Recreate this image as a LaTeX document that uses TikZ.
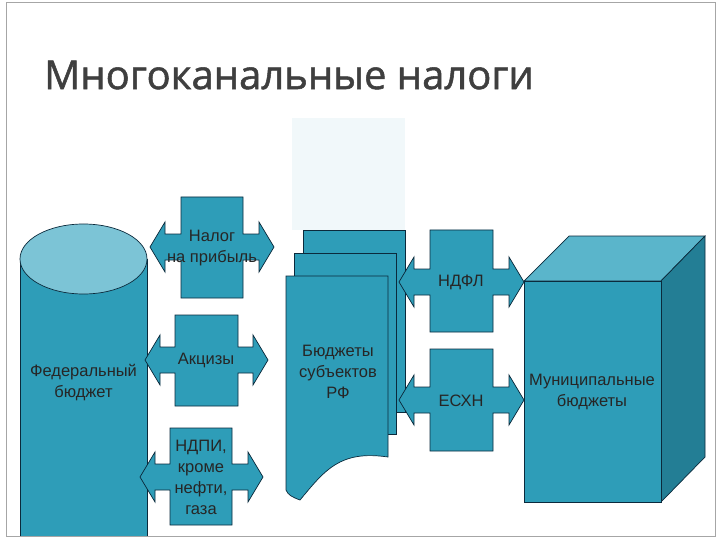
\documentclass[tikz,border=0pt]{standalone}
\usepackage{fontspec}
\setmainfont{Liberation Sans}
\newfontfamily\titlefont[FakeBold=1.3]{Open Sans}
\definecolor{teal1}{HTML}{2E9DB8}
\definecolor{tealtop}{HTML}{7CC4D6}
\definecolor{tealcube}{HTML}{5AB5CB}
\definecolor{tealside}{HTML}{237E95}
\definecolor{edgec}{HTML}{0B2A3C}
\definecolor{ghost}{HTML}{F1F8FA}
\definecolor{titlec}{HTML}{3F3F3F}
\newcommand\lrcall[9]{% x1 x2 y1 y2 cy tL bL bR tR
 \fill[teal1] (#1,#3)--(#2,#3)--(#2,#5-13)--(#8,#5-13)--(#8,#5-25)--(#9,#5)--(#8,#5+25)--(#8,#5+13)--(#2,#5+13)--(#2,#4)--(#1,#4)--(#1,#5+13)--(#7,#5+13)--(#7,#5+25)--(#6,#5)--(#7,#5-25)--(#7,#5-13)--(#1,#5-13)--cycle;
 \draw[edgec,line width=0.7pt] (#1,#3)--(#2,#3)--(#2,#5-13)--(#8,#5-13)--(#8,#5-25)--(#9,#5)--(#8,#5+25)--(#8,#5+13)--(#2,#5+13)--(#2,#4)--(#1,#4)--(#1,#5+13)--(#7,#5+13)--(#7,#5+25)--(#6,#5)--(#7,#5-25)--(#7,#5-13)--(#1,#5-13)--cycle;}
\begin{document}
\begin{tikzpicture}[x=1pt,y=-1pt,
 lbl/.style={text=black!85,font=\fontsize{16.5}{21}\selectfont,align=center,inner sep=0pt},
 shp/.style={fill=teal1,draw=edgec,line width=0.7pt}]
\useasboundingbox (0,0) rectangle (720,540);
\fill[white] (0,0) rectangle (720,540);
\fill[ghost] (292,118) rectangle (405,230);
% cylinder
\fill[teal1] (20,259) rectangle (147,536);
\draw[edgec,line width=0.7pt] (20,259) -- (20,536) (147,259) -- (147,536);
\draw[edgec,line width=0.7pt,fill=tealtop] (83.5,259) ellipse[x radius=63.5,y radius=35];
\node[lbl] (fed) at (83.5,383) {Федеральный\\бюджет};
\draw[gray!70,line width=0.8pt] (6,2) rectangle (715,536);
\node[anchor=west,text=titlec,font=\titlefont\fontsize{40}{42}\selectfont,inner sep=0pt] (title) at (44,75) {Многоканальные налоги};
% callouts
\lrcall{181}{243}{197}{298}{247}{150}{165}{259}{274}
\node[lbl] (np) at (212,248) {Налог\\на прибыль};
\lrcall{175}{238}{315}{406}{360}{145}{160}{253}{268}
\node[lbl] (akc) at (206,360) {Акцизы};
\lrcall{170}{232}{428}{525}{477}{140}{155}{248}{263}
\node[lbl] (ndpi) at (201,477) {НДПИ,\\кроме\\нефти,\\газа};
% documents
\draw[shp] (303,230) rectangle (405,412);
\draw[shp] (294,253) rectangle (396,434);
\draw[shp] (286,276) -- (388,276) -- (388,457) .. controls (340,450) and (325,470) .. (300,500) .. controls (292,497) and (288,495) .. (286,490) -- cycle;
\node[lbl] (subj) at (338,372) {Бюджеты\\субъектов\\РФ};
\lrcall{430}{493}{230}{332}{282}{399}{414}{509}{524}
\node[lbl] (ndfl) at (461,282) {НДФЛ};
\lrcall{430}{493}{349}{451}{400}{399}{414}{509}{524}
\node[lbl] (esxn) at (461,401) {ЕСХН};
% cube
\draw[edgec,line width=0.7pt,fill=tealcube] (524,281)--(569,236)--(705,236)--(661,281)--cycle;
\draw[edgec,line width=0.7pt,fill=tealside] (661,281)--(705,236)--(705,457)--(661,502)--cycle;
\draw[shp] (524,281) rectangle (661,502);
\node[lbl] (mun) at (592,392) {Муниципальные\\бюджеты};
\end{tikzpicture}
\end{document}
